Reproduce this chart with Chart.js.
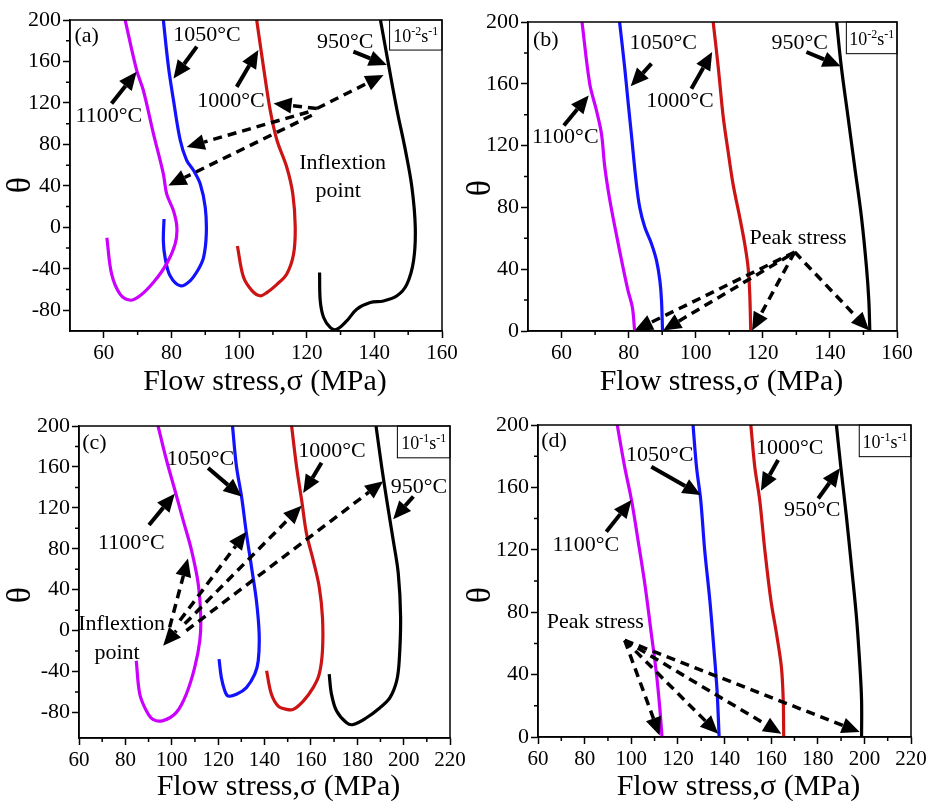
<!DOCTYPE html>
<html lang="en">
<head>
<meta charset="UTF-8" />
<title>Work hardening rate vs flow stress</title>
<style>
  body { margin: 0; background: #fff; }
  #wrap { position: relative; width: 930px; height: 801px; }
  #wrap canvas { position: absolute; }
</style>
</head>
<body>
<div id="wrap">
  <canvas id="pa" width="465" height="400" style="left:0;top:0"></canvas>
  <canvas id="pb" width="465" height="400" style="left:465px;top:0"></canvas>
  <canvas id="pc" width="465" height="401" style="left:0;top:400px"></canvas>
  <canvas id="pd" width="465" height="401" style="left:465px;top:400px"></canvas>
</div>

<script src="https://cdn.jsdelivr.net/npm/chart.js@4.4.0/dist/chart.umd.min.js"></script>
<script>
// theta vs flow stress curves, [sigma, theta] pairs
// 10^-2 s^-1, full curves
const a1100 = [[66.3,200],[69.7,151.6],[71.7,132],[74.7,90],[77.6,51.6],[78.6,32],[80.6,16],[81.6,0],[81.1,-16],[78.6,-35],[74.7,-53],[70.7,-66],[67.8,-70.3],[64.8,-64.5],[62.3,-45],[60.9,-10]];
const a1050 = [[77.6,200],[79.1,155],[80.6,122.6],[82.6,84],[84.5,64.5],[86.5,55],[88.5,42],[90,19],[90.3,-6.5],[89.5,-29],[88,-40.3],[85.5,-51.6],[82.6,-56.4],[79.6,-46.8],[78.1,-29],[77.6,-13],[77.8,8]];
const a1000 = [[105.2,200],[107.2,155],[109.2,113],[111.2,84],[114.1,58],[115.9,32],[116.6,0],[116.1,-26],[114.1,-45],[111.2,-55],[108.2,-63],[106.2,-66],[103.8,-61],[101.3,-48],[99.5,-18]];
const a950 = [[141.8,200],[144.3,155],[146.7,113],[149.2,74],[151.1,38.7],[152.1,0],[151.6,-32],[149.6,-55],[146.7,-66],[142.7,-71],[138.8,-72.6],[134.8,-79],[131.9,-90],[128.9,-98.4],[127,-96.8],[125,-87],[124,-71],[123.8,-43.5]];

// 10^-2 s^-1, up to peak stress
const b1100 = [[66.1,200],[68.4,160],[70.4,142.8],[71.9,127.7],[72.9,106],[74.4,84.6],[76.3,63],[78.3,41.4],[79.8,26.3],[81.1,15.5],[81.8,0]];
const b1050 = [[77.3,200],[78.8,171],[79.8,149],[80.8,127.7],[82.3,95.4],[83.3,80],[84.8,67.3],[86.8,56.5],[88.3,45.7],[89.3,32.8],[89.8,19.8],[90.1,0]];
const b1000 = [[105.2,200],[106.7,171],[108.2,138.5],[109.6,117],[111.1,95.4],[113.1,73.8],[114.6,56.5],[115.6,41.4],[116.1,24.2],[116.4,0]];
const b950 = [[142,200],[143.4,171],[145.4,138.5],[147.4,106],[149.4,73.8],[150.9,41.4],[151.6,19.8],[151.9,0]];

// 10^-1 s^-1, full curves
const c1100 = [[94.1,200],[97.7,167],[101.3,137.7],[104.9,108],[108.5,78.7],[111.4,45.9],[112.5,13],[112.1,-9.8],[109.9,-36],[106.3,-62],[102,-80],[96.3,-88],[91.9,-86.9],[89.1,-78.7],[86.2,-62],[84.7,-29.5]];
const c1050 = [[126.2,200],[127.9,160.7],[130.1,131],[132.2,95],[134.4,62],[136.5,29.5],[137.7,-3.3],[137.3,-29.5],[135.8,-42.6],[132.2,-55.7],[127.9,-62.3],[124.3,-64],[122.9,-59],[121.4,-46],[120.4,-27.9]];
const c1000 = [[151.7,200],[153.8,160.7],[156,127.9],[158.1,95],[161,68.9],[163.6,42.6],[165,13],[165,-19.7],[163.6,-42.6],[161,-55.7],[156.7,-68.9],[152.4,-77],[149.5,-77],[145.9,-73.8],[143,-62.3],[140.9,-39.3]];
const c950 = [[188.1,200],[190.5,160.7],[192.7,127.9],[195.5,88.5],[197.7,55.7],[198.7,13],[198.1,-29.5],[197,-49.2],[194.1,-65.6],[189.8,-75.4],[184,-85.2],[178.3,-91.8],[175.4,-90.2],[171.1,-78.7],[168.9,-62.3],[167.9,-42.6]];

// 10^-1 s^-1, up to peak stress
const d1100 = [[94,200],[97.2,173],[100.1,151.9],[102.9,126.2],[105.8,98.4],[108.6,66.3],[110.8,40.6],[112.2,19.3],[113.2,0]];
const d1050 = [[126.5,200],[128,173],[129.8,151.9],[131.5,119.8],[133.7,87.7],[135.5,55.6],[136.8,29.9],[137.7,0]];
const d1000 = [[151.3,200],[153,173],[155.1,151.9],[157.3,119.8],[159.9,87.7],[162.3,66.3],[164.4,44.9],[165.2,23.5],[165.4,0]];
const d950 = [[188,200],[189.9,173],[192.3,141.2],[194.5,109],[196.6,77],[198.1,44.9],[198.8,23.5],[198.8,0]];

const temps = ['1100°C', '1050°C', '1000°C', '950°C'];
const colors = ['#cc00ff', '#1212ff', '#cc1414', '#000000'];

// tick values
const xTicksLow = [60, 80, 100, 120, 140, 160];
const xMinorLow = [70, 90, 110, 130, 150];
const xTicksHigh = [60, 80, 100, 120, 140, 160, 180, 200, 220];
const xMinorHigh = [70, 90, 110, 130, 150, 170, 190, 210];
const yTicksFull = [-80, -40, 0, 40, 80, 120, 160, 200];
const yMinorFull = [-60, -20, 20, 60, 100, 140, 180];
const yTicksPos = [0, 40, 80, 120, 160, 200];
const yMinorPos = [20, 60, 100, 140, 180];

const SERIF = '"Liberation Serif", "Times New Roman", serif';

// annotations, in axis units
const notesA = {
  tag: ['(a)', 51.3, 184],
  labels: [['1050°C', 90.5, 185.6], ['1100°C', 61.5, 107.2], ['1000°C', 97.6, 121.7], ['950°C', 131.4, 178.8],
           ['Inflextion', 130.6, 62.1], ['point', 129.3, 34.6]],
  arrows: [[87.5, 174.3, 80.6, 143.6], [62.3, 119.5, 69.7, 150], [99.3, 135.5, 105.7, 171], [133.8, 169.4, 143.7, 156.5]],
  dashed: [[123, 114.6, 110.2, 119.5], [123, 114.6, 142.7, 146.9], [120.5, 111.3, 84.5, 77.4], [121.5, 108.1, 79.1, 40.4]],
  rate: ['-2', 144.5, 171]
};
const notesB = {
  tag: ['(b)', 51.5, 188],
  labels: [['1050°C', 90.3, 186], ['1100°C', 61.1, 125.6], ['1000°C', 95.3, 149], ['950°C', 131, 186], ['Peak stress', 130.5, 59.8]],
  arrows: [[86.8, 173, 80.6, 158.4], [60.7, 133, 68.1, 152.5], [98.7, 156.8, 104.9, 180.6], [133, 180.6, 143.2, 171.3]],
  dashed: [[129.5, 51.1, 81.8, 0.4], [128, 49, 90.3, 0.4], [129.5, 51.1, 116.8, 0.4], [129.5, 51.1, 151.7, 0.4]],
  rate: ['-2', 144.9, 179.5]
};
const notesC = {
  tag: ['(c)', 61.4, 183.6],
  labels: [['1050°C', 112.4, 167.2], ['1100°C', 82.6, 85.2], ['1000°C', 169.1, 175.4], ['950°C', 206.6, 140.3],
           ['Inflextion', 78.4, 5.9], ['point', 76.4, -22.3]],
  arrows: [[115.7, 159, 130.1, 131], [90.2, 103.3, 101.3, 133.8], [164.6, 164, 156.7, 134.4], [204.2, 131.1, 195.5, 108.9]],
  dashed: [[99.1, 3.3, 107, 70.5], [103.5, 9.8, 132.2, 96.7], [105.6, 6.6, 156, 122], [106.3, 0, 191.2, 145.9], [102, 0, 96.3, -14.8]],
  rate: ['-1', 197.3, 168.9]
};
const notesD = {
  tag: ['(d)', 61.4, 189.3],
  labels: [['1050°C', 112.2, 180.7], ['1100°C', 80.5, 123], ['1000°C', 168, 185], ['950°C', 177.6, 145.5], ['Peak stress', 84.6, 73.8]],
  arrows: [[108.6, 173.3, 129.8, 155.1], [89.3, 131.6, 100.1, 151.9], [163, 177.5, 155.6, 157.9], [180.2, 152.9, 189.5, 172.2]],
  dashed: [[97.2, 62, 112.2, 1], [97.2, 62, 137.3, 2.1], [97.2, 62, 164.4, 2.1], [97.2, 62, 198, 3.2]],
  rate: ['-1', 197.8, 179.7]
};

const panels = [
  { id: 'pa', series: [a1100, a1050, a1000, a950], x: [50, 160], y: [-100, 200],
    xTicks: xTicksLow, xMinor: xMinorLow, yTicks: yTicksFull, yMinor: yMinorFull,
    yW: 70, xH: 69, top: 20, right: 23, titleDx: 9, titleDy: 59, theta: [21, 185], notes: notesA },
  { id: 'pb', series: [b1100, b1050, b1000, b950], x: [50, 160], y: [0, 200],
    xTicks: xTicksLow, xMinor: xMinorLow, yTicks: yTicksPos, yMinor: yMinorPos,
    yW: 63, xH: 69, top: 22, right: 33, titleDx: 9, titleDy: 59, theta: [16, 188], notes: notesB },
  { id: 'pc', series: [c1100, c1050, c1000, c950], x: [60, 220], y: [-105, 200],
    xTicks: xTicksHigh, xMinor: xMinorHigh, yTicks: yTicksFull, yMinor: yMinorFull,
    yW: 79, xH: 63, top: 26, right: 15, titleDx: 14, titleDy: 57, theta: [21, 195], notes: notesC },
  { id: 'pd', series: [d1100, d1050, d1000, d950], x: [60, 220], y: [0, 200],
    xTicks: xTicksHigh, xMinor: xMinorHigh, yTicks: yTicksPos, yMinor: yMinorPos,
    yW: 73, xH: 64, top: 25, right: 19, titleDx: 14, titleDy: 58, theta: [16, 195], notes: notesD }
];

function text(ctx, str, px, py, size, align) {
  ctx.font = size + 'px ' + SERIF;
  ctx.textAlign = align || 'center';
  ctx.textBaseline = 'middle';
  ctx.fillText(str, px, py);
}

function arrow(ctx, x1, y1, x2, y2, dashed) {
  const ang = Math.atan2(y2 - y1, x2 - x1);
  const hl = 18, hw = 8;
  const bx = x2 - hl * Math.cos(ang), by = y2 - hl * Math.sin(ang);
  ctx.save();
  ctx.lineWidth = dashed ? 3.5 : 4;
  ctx.setLineDash(dashed ? [9, 6] : []);
  ctx.beginPath();
  ctx.moveTo(x1, y1);
  ctx.lineTo(bx, by);
  ctx.stroke();
  ctx.setLineDash([]);
  ctx.beginPath();
  ctx.moveTo(x2, y2);
  ctx.lineTo(bx + hw * Math.sin(ang), by - hw * Math.cos(ang));
  ctx.lineTo(bx - hw * Math.sin(ang), by + hw * Math.cos(ang));
  ctx.closePath();
  ctx.fill();
  ctx.restore();
}

function makeDecor(p) {
  return {
    id: 'decor',
    afterDraw(chart) {
      const { ctx, chartArea: ca, scales: { x, y } } = chart;
      const n = p.notes;
      ctx.save();
      ctx.strokeStyle = '#000';
      ctx.fillStyle = '#000';

      // frame
      ctx.lineWidth = 1.5;
      ctx.strokeRect(ca.left, ca.top, ca.right - ca.left, ca.bottom - ca.top);

      // minor ticks
      ctx.beginPath();
      p.xMinor.forEach(v => {
        const px = x.getPixelForValue(v);
        ctx.moveTo(px, ca.bottom);
        ctx.lineTo(px, ca.bottom + 4);
      });
      p.yMinor.forEach(v => {
        const py = y.getPixelForValue(v);
        ctx.moveTo(ca.left, py);
        ctx.lineTo(ca.left - 4, py);
      });
      ctx.stroke();

      // axis titles
      ctx.font = '30px ' + SERIF;
      ctx.textAlign = 'center';
      ctx.textBaseline = 'alphabetic';
      ctx.fillText('Flow stress,σ (MPa)', (ca.left + ca.right) / 2 + p.titleDx, ca.bottom + p.titleDy);
      ctx.save();
      ctx.translate(p.theta[0], p.theta[1]);
      ctx.rotate(-Math.PI / 2);
      text(ctx, 'θ', 0, 0, 34);
      ctx.restore();

      // panel tag and labels
      text(ctx, n.tag[0], x.getPixelForValue(n.tag[1]), y.getPixelForValue(n.tag[2]), 22, 'left');
      n.labels.forEach(l => text(ctx, l[0], x.getPixelForValue(l[1]), y.getPixelForValue(l[2]), 22));

      n.arrows.forEach(a => arrow(ctx, x.getPixelForValue(a[0]), y.getPixelForValue(a[1]),
                                       x.getPixelForValue(a[2]), y.getPixelForValue(a[3]), false));
      n.dashed.forEach(a => arrow(ctx, x.getPixelForValue(a[0]), y.getPixelForValue(a[1]),
                                       x.getPixelForValue(a[2]), y.getPixelForValue(a[3]), true));

      // strain rate box in the top right corner
      const bl = x.getPixelForValue(n.rate[1]);
      const bb = y.getPixelForValue(n.rate[2]);
      ctx.lineWidth = 1;
      ctx.strokeRect(bl, ca.top, ca.right - bl, bb - ca.top);
      const parts = [['10', 18, 0], [n.rate[0], 12, -7], ['s', 18, 0], ['-1', 12, -7]];
      let w = 0;
      parts.forEach(t => { ctx.font = t[1] + 'px ' + SERIF; w += ctx.measureText(t[0]).width; });
      let cx = (bl + ca.right) / 2 - w / 2;
      const base = (ca.top + bb) / 2 + 7;
      ctx.textAlign = 'left';
      ctx.textBaseline = 'alphabetic';
      parts.forEach(t => {
        ctx.font = t[1] + 'px ' + SERIF;
        ctx.fillText(t[0], cx, base + t[2]);
        cx += ctx.measureText(t[0]).width;
      });
      ctx.restore();
    }
  };
}

panels.forEach(p => {
  new Chart(document.getElementById(p.id), {
    type: 'scatter',
    data: {
      datasets: p.series.map((s, i) => ({
        label: temps[i],
        data: s.map(pt => ({ x: pt[0], y: pt[1] })),
        showLine: true,
        borderColor: colors[i],
        borderWidth: 3.2,
        pointRadius: 0,
        tension: 0.35
      }))
    },
    options: {
      responsive: false,
      animation: false,
      events: [],
      layout: { padding: { left: 0, top: p.top, right: p.right, bottom: 0 } },
      plugins: { legend: { display: false }, tooltip: { enabled: false } },
      scales: {
        x: {
          type: 'linear', min: p.x[0], max: p.x[1],
          afterBuildTicks: s => { s.ticks = p.xTicks.map(v => ({ value: v })); },
          afterFit: s => { s.height = p.xH; s.paddingLeft = 0; s.paddingRight = 0; },
          grid: { drawOnChartArea: false, tickLength: 7, tickColor: '#000', tickWidth: 1.5 },
          border: { color: '#000', width: 1.5 },
          ticks: { color: '#000', font: { family: SERIF, size: 21 }, padding: 3, maxRotation: 0, callback: v => String(v) }
        },
        y: {
          type: 'linear', min: p.y[0], max: p.y[1],
          afterBuildTicks: s => { s.ticks = p.yTicks.map(v => ({ value: v })); },
          afterFit: s => { s.width = p.yW; s.paddingTop = 0; s.paddingBottom = 0; },
          grid: { drawOnChartArea: false, tickLength: 7, tickColor: '#000', tickWidth: 1.5 },
          border: { color: '#000', width: 1.5 },
          ticks: { color: '#000', font: { family: SERIF, size: 22 }, padding: 2, callback: v => String(v) }
        }
      }
    },
    plugins: [makeDecor(p)]
  });
});
</script>
</body>
</html>
